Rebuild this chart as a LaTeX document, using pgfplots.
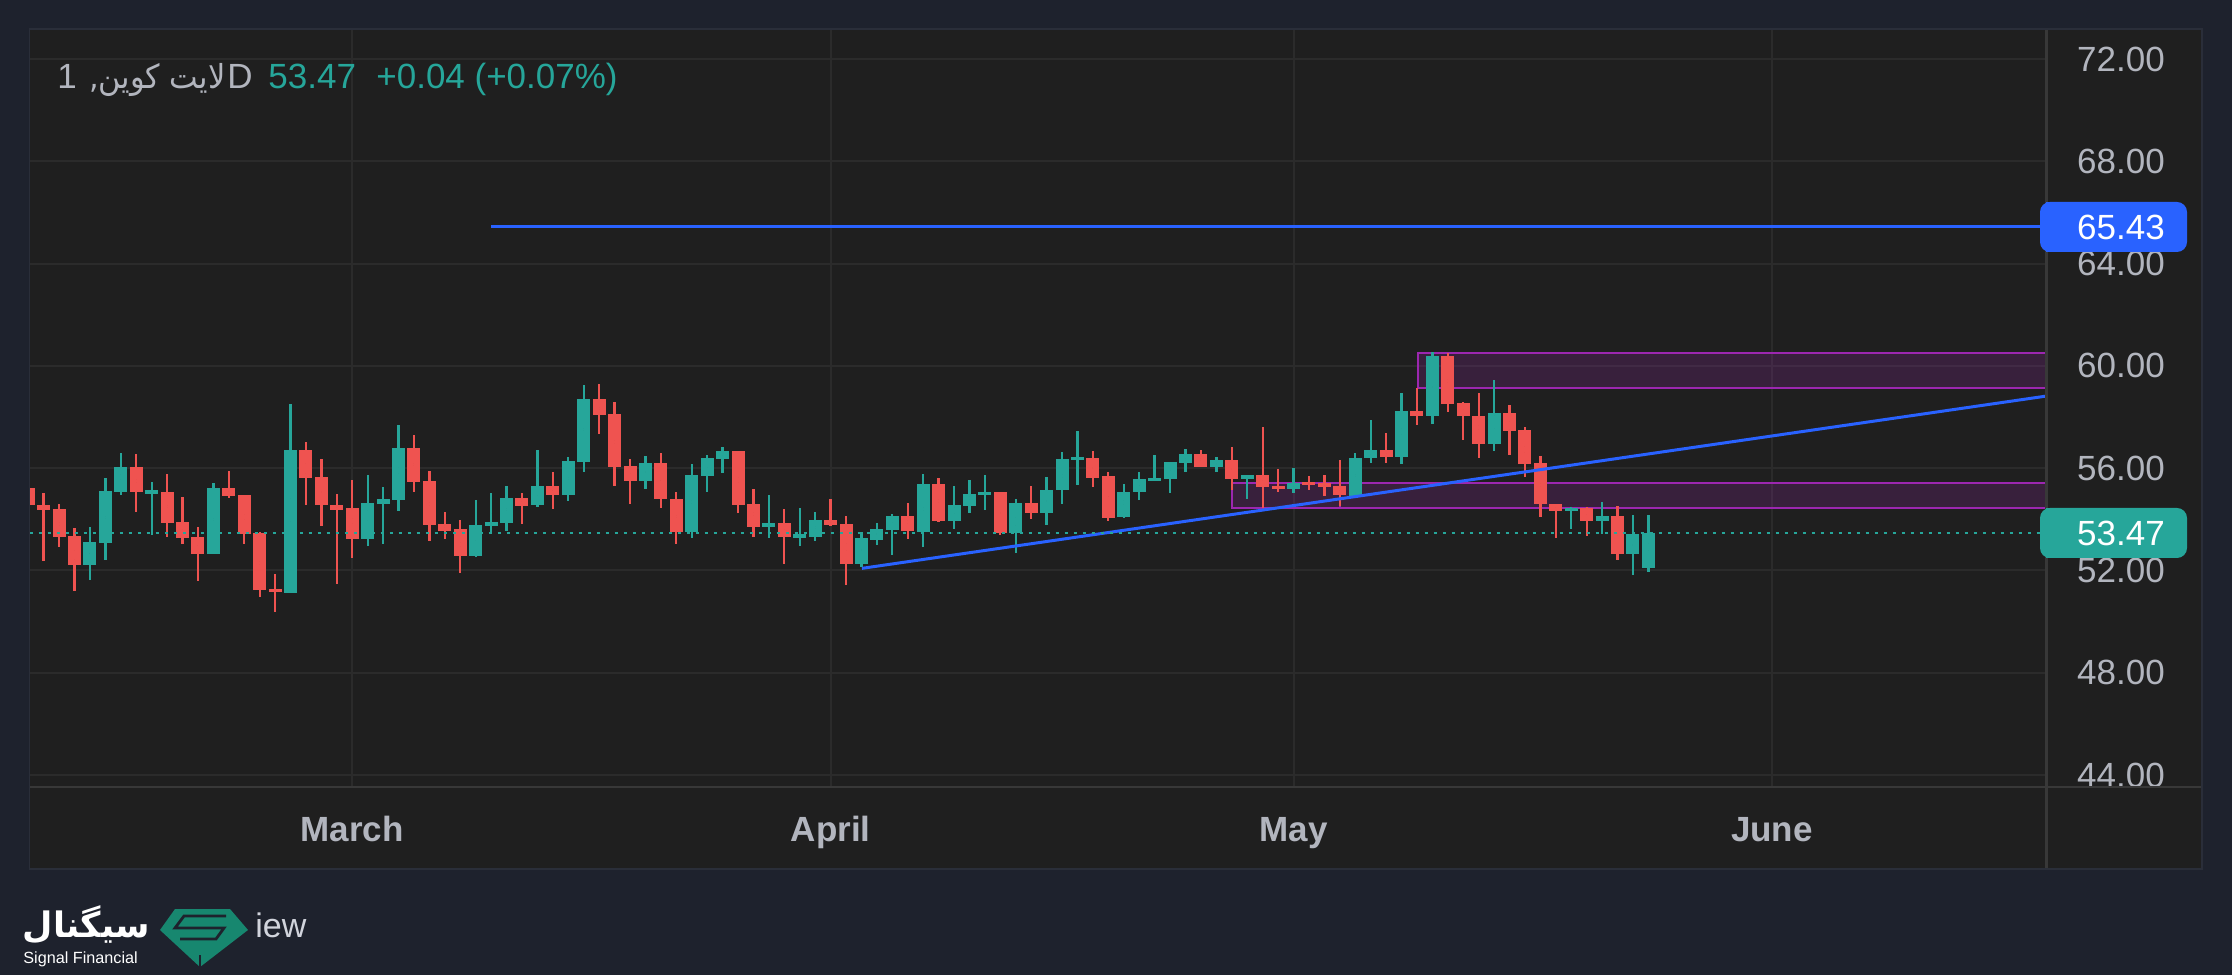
\documentclass[border=0pt]{standalone}
\usepackage{fontspec}
\usepackage{graphicx}
\usepackage{pgfplots}
\usepackage{pgfplotstable}
\pgfplotsset{compat=1.18}
\setmainfont{Liberation Sans}
\newfontfamily\arabicfont[Script=Arabic]{DejaVu Sans}
\TeXXeTstate=1
\definecolor{tvbg}{HTML}{1E222D}
\definecolor{tvpanel}{HTML}{1F1F1F}
\definecolor{tvgrid}{HTML}{2B2B2B}
\definecolor{tvsep}{HTML}{383838}
\definecolor{tvborder}{HTML}{2A2E39}
\definecolor{tvtext}{HTML}{B2B5BE}
\definecolor{tvteal}{HTML}{26A69A}
\definecolor{tvred}{HTML}{EF5350}
\definecolor{tvblue}{HTML}{2962FF}
\definecolor{tvpurple}{HTML}{9C27B0}
\definecolor{logogreen}{HTML}{17876F}
\definecolor{iewgray}{HTML}{D1D4DC}

\pgfplotstableread{
x O H L C
-17 52.22 53.70 51.63 53.11
-16 53.08 55.62 52.42 55.11
-15 55.08 56.60 54.93 56.05
-13 54.97 55.46 53.40 55.15
-9 52.65 55.42 52.65 55.23
-4 51.12 58.52 51.12 56.72
1 53.24 55.74 52.97 54.64
2 54.61 55.27 53.05 54.78
3 54.77 57.70 54.34 56.80
8 52.57 54.75 52.53 53.77
9 53.75 55.02 53.43 53.89
10 53.86 55.30 53.54 54.83
12 54.55 56.70 54.49 55.30
14 54.96 56.43 54.72 56.27
15 56.25 59.24 55.86 58.70
19 55.50 56.47 55.19 56.20
22 53.51 56.16 53.28 55.73
23 55.70 56.51 55.07 56.39
24 56.36 56.82 55.82 56.66
27 53.71 54.94 53.28 53.85
29 53.25 54.44 52.96 53.42
30 53.32 54.28 53.16 53.97
33 52.26 53.49 52.13 53.27
34 53.20 53.86 53.01 53.62
35 53.59 54.20 52.61 54.13
37 53.52 55.78 52.93 55.39
39 53.93 55.31 53.63 54.56
40 54.52 55.54 54.26 54.99
41 54.95 55.74 54.38 55.07
43 53.48 54.80 52.69 54.64
45 54.26 55.66 53.79 55.15
46 55.16 56.64 54.61 56.37
47 56.31 57.46 55.36 56.42
50 54.07 55.39 54.07 55.07
51 55.05 55.86 54.77 55.58
52 55.48 56.52 55.48 55.62
53 55.56 56.25 55.01 56.25
54 56.22 56.76 55.83 56.56
56 56.03 56.44 55.83 56.33
58 55.56 55.74 54.81 55.74
61 55.17 56.01 55.01 55.43
65 54.93 56.60 54.93 56.40
66 56.38 57.89 56.22 56.72
68 56.42 58.94 56.18 58.24
70 58.02 60.54 57.74 60.38
74 56.96 59.45 56.69 58.16
79 54.31 54.50 53.61 54.43
81 53.92 54.66 53.41 54.13
83 52.63 54.15 51.81 53.43
84 52.09 54.15 51.93 53.47
}\bull

\pgfplotstableread{
x O H L C
-21 55.23 55.30 54.50 54.54
-20 54.56 55.03 52.37 54.38
-19 54.41 54.60 52.93 53.32
-18 53.35 53.66 51.20 52.22
-14 56.05 56.56 54.30 55.05
-12 55.07 55.78 53.32 53.87
-11 53.90 54.88 53.03 53.28
-10 53.31 53.70 51.59 52.65
-8 55.23 55.90 54.84 54.92
-7 54.95 54.95 53.05 53.44
-6 53.48 53.52 50.97 51.24
-5 51.27 51.86 50.38 51.14
-3 56.72 57.03 54.54 55.63
-2 55.66 56.37 53.75 54.54
-1 54.56 54.99 51.48 54.38
0 54.44 55.54 52.50 53.24
4 56.80 57.31 55.05 55.44
5 55.50 55.90 53.16 53.79
6 53.81 54.28 53.22 53.54
7 53.62 53.97 51.91 52.57
11 54.83 55.02 53.82 54.53
13 55.30 55.84 54.41 54.96
16 58.70 59.28 57.34 58.08
17 58.11 58.58 55.31 56.05
18 56.08 56.35 54.61 55.50
20 56.20 56.59 54.45 54.80
21 54.79 55.06 53.04 53.51
25 56.66 56.66 54.25 54.57
26 54.59 55.18 53.32 53.71
28 53.85 54.40 52.26 53.32
31 53.97 54.79 53.73 53.79
32 53.81 54.12 51.44 52.26
36 54.13 54.64 53.24 53.53
38 55.39 55.62 53.90 53.93
42 55.07 55.07 53.40 53.48
44 54.64 55.31 54.03 54.26
48 56.41 56.68 55.28 55.63
49 55.70 55.86 53.95 54.07
55 56.56 56.72 56.03 56.03
57 56.33 56.84 55.16 55.56
59 55.74 57.61 54.45 55.28
60 55.31 55.97 55.05 55.17
62 55.44 55.70 55.13 55.35
63 55.40 55.74 54.93 55.28
64 55.31 56.33 54.52 54.93
67 56.72 57.38 56.22 56.42
69 58.24 59.13 57.70 58.02
71 60.38 60.50 58.21 58.52
72 58.55 58.59 57.12 58.02
73 58.04 58.94 56.38 56.96
75 58.16 58.47 56.53 57.47
76 57.50 57.61 55.64 56.18
77 56.21 56.48 54.08 54.58
78 54.61 54.61 53.26 54.31
80 54.43 54.50 53.33 53.92
82 54.13 54.50 52.40 52.63
}\bear

\begin{document}
\begin{tikzpicture}
\begin{scope}[x=0.5pt,y=0.5pt]
  \fill[tvbg] (0,0) rectangle (2232,975);
  \fill[tvpanel] (29.3,106) rectangle (2201.7,945.7);
\end{scope}

\begin{axis}[
  at={(14.8pt,94.15pt)}, anchor=south west,
  scale only axis, width=1008.55pt, height=378.7pt,
  xmin=-20.91, xmax=109.81, ymin=43.542, ymax=73.161,
  axis line style={draw=none},
  major tick length=0pt,
  xtick={0,31,61,92}, xticklabels={March,April,May,June},
  ytick={44,48,...,72},
  yticklabel pos=right,
  grid=major,
  major grid style={draw=tvgrid, line width=1pt},
  xticklabel style={anchor=base, yshift=-27.5pt, font=\bfseries\fontsize{17.5}{21}\selectfont, text=tvtext},
  yticklabel style={anchor=center, xshift=37.15pt, font=\fontsize{17.5}{21}\selectfont, text=tvtext},
  /pgf/number format/fixed,
  /pgf/number format/fixed zerofill,
  /pgf/number format/precision=2,
  /pgf/number format/assume math mode=true,
  candle/.style={only marks, mark=*, mark size=0pt, mark options={draw=none, fill=none}, forget plot,
    error bars/.cd, y dir=both, y explicit, error mark=none},
]
% zones (behind candles)
\addplot[draw=tvpurple, line width=1pt, fill=tvpurple, fill opacity=0.2, forget plot]
  coordinates {(57,54.45) (57,55.40) (113,55.40) (113,54.45)} -- cycle;
\addplot[draw=tvpurple, line width=1pt, forget plot]
  coordinates {(64,54.45) (64,55.40)};
\addplot[draw=tvpurple, line width=1pt, fill=tvpurple, fill opacity=0.2, forget plot]
  coordinates {(69.08,59.15) (69.08,60.52) (113,60.52) (113,59.15)} -- cycle;

% wicks
\addplot[candle, error bar style={draw=tvteal, line width=1.15pt}]
  table[x=x, y expr={(\thisrow{H}+\thisrow{L})/2}, y error expr={(\thisrow{H}-\thisrow{L})/2}] {\bull};
\addplot[candle, error bar style={draw=tvred, line width=1.15pt}]
  table[x=x, y expr={(\thisrow{H}+\thisrow{L})/2}, y error expr={(\thisrow{H}-\thisrow{L})/2}] {\bear};
% bodies
\addplot[candle, error bar style={draw=tvteal, line width=6.5pt}]
  table[x=x, y expr={(\thisrow{O}+\thisrow{C})/2}, y error expr={abs(\thisrow{C}-\thisrow{O})/2}] {\bull};
\addplot[candle, error bar style={draw=tvred, line width=6.5pt}]
  table[x=x, y expr={(\thisrow{O}+\thisrow{C})/2}, y error expr={abs(\thisrow{C}-\thisrow{O})/2}] {\bear};

% drawings
\addplot[tvblue, line width=1.5pt, forget plot] coordinates {(9,65.43) (113,65.43)};
\addplot[tvblue, line width=1.5pt, forget plot] coordinates {(33.03,52.08) (113,59.10)};
\addplot[tvteal, line width=1.1pt, dash pattern=on 1.5pt off 3pt, forget plot]
  coordinates {(-20.91,53.47) (109.4,53.47)};
\end{axis}

\begin{scope}[x=0.5pt,y=0.5pt, every node/.style={inner sep=0pt, font=\fontsize{17.5}{21}\selectfont}]
  % separators and border
  \draw[tvsep, line width=1.5pt] (2046.7,945.7) -- (2046.7,106);
  \draw[tvsep, line width=1.2pt] (29.6,188.3) -- (2201.7,188.3);
  \draw[tvborder, line width=0.8pt] (29.3,106) rectangle (2201.7,945.7);
  % price labels
  \fill[tvblue, rounded corners=5] (2040,723) rectangle (2187,773);
  \fill[tvblue] (2046,723) rectangle (2070,773);
  \node[text=white] at (2121,748) {65.43};
  \fill[tvteal, rounded corners=5] (2040,417) rectangle (2187,467);
  \fill[tvteal] (2046,417) rectangle (2070,467);
  \node[text=white] at (2121,442) {53.47};
  % legend / title
  \node[anchor=base west, text=tvtext] at (57,886.7) {1};
  \node[anchor=base east, text=tvtext] at (226,886.7) {\scalebox{0.92}[1]{\arabicfont\fontsize{16.5}{21}\selectfont\beginR لایت کوین,\endR}};
  \node[anchor=base west, text=tvtext] at (227,886.7) {D};
  \node[anchor=base west, text=tvteal] at (268,886.7) {53.47};
  \node[anchor=base west, text=tvteal] at (376,886.7) {+0.04 (+0.07\%)};
  % logo
  \node[text=white] at (86.5,50.5) {\resizebox{63.5pt}{!}{\arabicfont\bfseries\beginR سیگنال\endR}};
  \node[anchor=base west, text=white, font=\fontsize{8.1}{10}\selectfont] at (23,12) {Signal Financial};
  \fill[logogreen] (160,45) -- (175,66) -- (230,66) -- (248,45) -- (200,8) -- cycle;
  \draw[tvbg, line width=1.4pt, line join=miter] (226,59) -- (184,59) -- (175,47) -- (224,47) -- (216,36) -- (180,36);
  \draw[tvbg, line width=1.2pt] (200,8) -- (200,20);
  \node[anchor=base west, text=iewgray, font=\fontsize{17}{20}\selectfont] at (255,38) {iew};
\end{scope}
\end{tikzpicture}
\end{document}
